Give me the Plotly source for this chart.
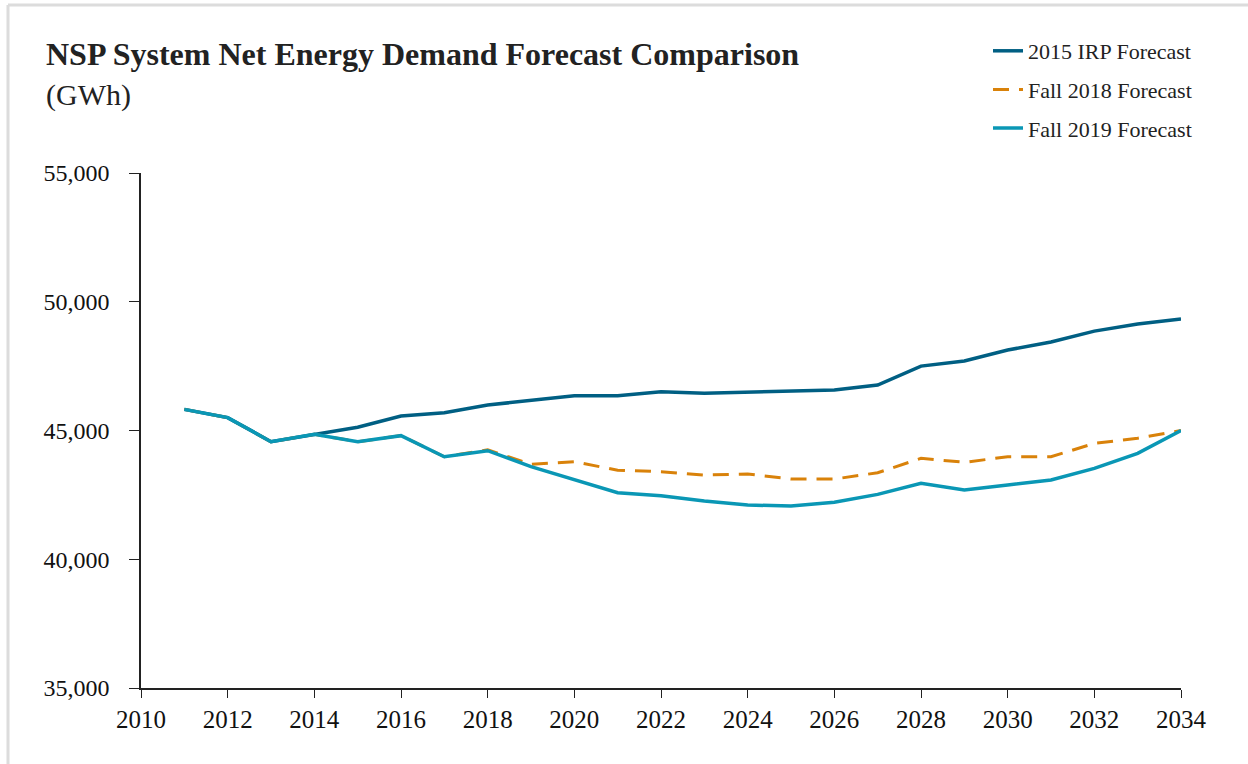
import plotly.graph_objects as go

years = list(range(2011, 2035))
irp_2015 = [45820, 45500, 44565, 44850, 45125, 45560, 45690, 45990, 46155, 46350,
            46350, 46505, 46445, 46480, 46535, 46575, 46765, 47500, 47700, 48125,
            48440, 48860, 49135, 49330]
fall_2018 = [45820, 45500, 44565, 44850, 44565, 44800, 43980, 44250, 43690, 43790,
             43455, 43400, 43270, 43310, 43115, 43115, 43360, 43920, 43765, 43980,
             43980, 44500, 44700, 45000]
fall_2019 = [45820, 45500, 44565, 44850, 44565, 44800, 43980, 44215, 43595, 43080,
             42585, 42470, 42260, 42105, 42070, 42210, 42520, 42950, 42690, 42885,
             43080, 43530, 44115, 45000]
x_ticks = list(range(2010, 2035, 2))
y_ticks = [35000, 40000, 45000, 50000, 55000]

FONT = "Liberation Serif"

pw, ph = 1040.0, 515.0
def px(xp):
    return (xp - 141) / pw
def py(yp):
    return (688 - yp) / ph

fig = go.Figure()
fig.add_trace(go.Scatter(x=years, y=irp_2015, mode="lines", name="2015 IRP Forecast",
                         legendgroup="a",
                         line=dict(color="#005F83", width=3.5)))
fig.add_trace(go.Scatter(x=years, y=fall_2018, mode="lines", name="Fall 2018 Forecast",
                         legendgroup="b",
                         line=dict(color="#D9820A", width=3, dash="16px,10px")))
fig.add_trace(go.Scatter(x=years, y=fall_2019, mode="lines", name="Fall 2019 Forecast",
                         legendgroup="c",
                         line=dict(color="#0A97B5", width=3.5)))

fig.update_layout(
    width=1248, height=764,
    margin=dict(l=141, r=67, t=173, b=76),
    paper_bgcolor="white", plot_bgcolor="white",
    font=dict(family=FONT, color="#111111", size=22),
    showlegend=True,
    legend=dict(x=px(1197), xanchor="right", y=py(30), yanchor="top",
                font=dict(family=FONT, size=22, color="#222222"),
                bgcolor="rgba(0,0,0,0)", tracegroupgap=7, traceorder="grouped"),
    xaxis=dict(range=[2010, 2034], tickvals=x_ticks, showgrid=False, zeroline=False,
               showline=True, linecolor="#222222", linewidth=1.5,
               ticks="outside", ticklen=8, tickcolor="#222222",
               ticklabelstandoff=0,
               tickfont=dict(family=FONT, size=25, color="#111111")),
    yaxis=dict(range=[35000, 55000], tickvals=y_ticks, tickformat=",d",
               showgrid=False, zeroline=False,
               showline=True, linecolor="#222222", linewidth=1.5,
               ticks="outside", ticklen=10, tickcolor="#222222",
               ticklabelstandoff=15,
               tickfont=dict(family=FONT, size=24, color="#111111")),
)

fig.add_annotation(text="<b>NSP System Net Energy Demand Forecast Comparison</b>",
                   x=px(44), y=py(54), xref="paper", yref="paper",
                   xanchor="left", yanchor="middle", showarrow=False,
                   font=dict(family=FONT, size=32, color="#222222"))
fig.add_annotation(text="(GWh)",
                   x=px(44), y=py(95), xref="paper", yref="paper",
                   xanchor="left", yanchor="middle", showarrow=False,
                   font=dict(family=FONT, size=30, color="#222222"))

# light frame at top and left
fig.add_shape(type="line", xref="paper", yref="paper",
              x0=px(8), x1=px(1260), y0=py(5), y1=py(5),
              line=dict(color="#DCDCDC", width=3))
fig.add_shape(type="line", xref="paper", yref="paper",
              x0=px(8), x1=px(8), y0=py(5), y1=py(780),
              line=dict(color="#DCDCDC", width=3))

fig.write_html("out.html", config={"displayModeBar": False},
               post_script="document.body.style.margin='0';")
